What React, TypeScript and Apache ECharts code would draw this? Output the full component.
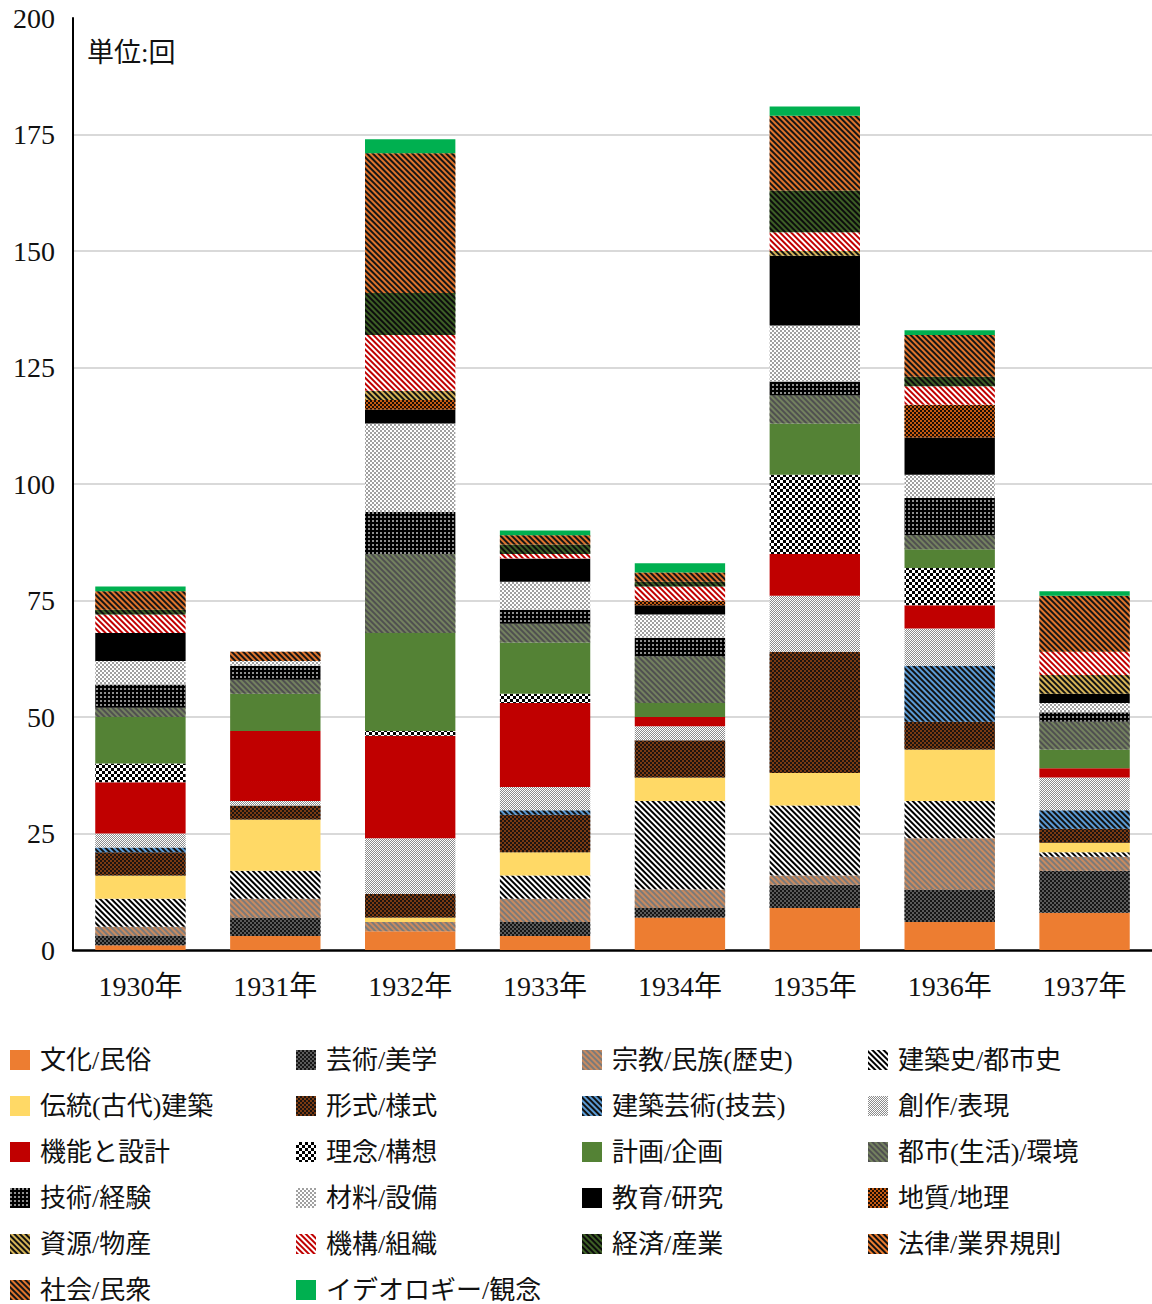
import React, { useEffect, useRef } from "react";
import * as echarts from "echarts";

const years = ["1930年", "1931年", "1932年", "1933年", "1934年", "1935年", "1936年", "1937年"];
const yTicks = { min: 0, max: 200, interval: 25 };
const unitLabel = "単位:回";

const names = [
  "文化/民俗", "芸術/美学", "宗教/民族(歴史)", "建築史/都市史",
  "伝統(古代)建築", "形式/様式", "建築芸術(技芸)", "創作/表現",
  "機能と設計", "理念/構想", "計画/企画", "都市(生活)/環境",
  "技術/経験", "材料/設備", "教育/研究", "地質/地理",
  "資源/物産", "機構/組織", "経済/産業", "法律/業界規則",
  "社会/民衆", "イデオロギー/観念",
];

const bunka = [1, 3, 4, 3, 7, 9, 6, 8];
const geijutsu = [2, 4, 0, 3, 2, 5, 7, 9];
const shukyo = [2, 4, 2, 5, 4, 2, 11, 3];
const kenchikushi = [6, 6, 0, 5, 19, 15, 8, 1];
const dento = [5, 11, 1, 5, 5, 7, 11, 2];
const keishiki = [5, 3, 5, 8, 8, 26, 6, 3];
const kenchikuGeijutsu = [1, 0, 0, 1, 0, 0, 12, 4];
const sosaku = [3, 1, 12, 5, 3, 12, 8, 7];
const kino = [11, 15, 22, 18, 2, 9, 5, 2];
const rinen = [4, 0, 1, 2, 0, 17, 8, 0];
const keikaku = [10, 8, 21, 11, 3, 11, 4, 4];
const toshi = [2, 3, 17, 4, 10, 6, 3, 6];
const gijutsu = [5, 3, 9, 3, 4, 3, 8, 2];
const zairyo = [5, 1, 19, 6, 5, 12, 5, 2];
const kyoiku = [6, 0, 3, 5, 2, 15, 8, 2];
const chishitsu = [0, 0, 2, 0, 1, 0, 7, 0];
const shigen = [0, 0, 2, 0, 0, 1, 0, 4];
const kiko = [4, 0, 12, 1, 3, 4, 4, 5];
const keizai = [1, 0, 9, 2, 1, 9, 2, 0];
const horitsu = [0, 0, 0, 0, 0, 0, 0, 0];
const shakai = [4, 2, 30, 2, 2, 16, 9, 12];
const ideology = [1, 0, 3, 1, 2, 2, 1, 1];

const seriesValues = [
  bunka, geijutsu, shukyo, kenchikushi, dento, keishiki, kenchikuGeijutsu, sosaku,
  kino, rinen, keikaku, toshi, gijutsu, zairyo, kyoiku, chishitsu,
  shigen, kiko, keizai, horitsu, shakai, ideology,
];

const ROT = Math.PI / 4;
const stripes = (color: string, on: number, off: number) => ({
  symbol: "rect", symbolSize: 1, color, dashArrayX: [1, 0], dashArrayY: [on, off], rotation: ROT,
});
const checker = (color: string, s: number) => ({
  symbol: "rect", symbolSize: 1, color, dashArrayX: [[s, s], [0, s, s, 0]], dashArrayY: [s, 0], rotation: 0,
});
const dots = (color: string, s: number, g: number) => ({
  symbol: "rect", symbolSize: 1, color, dashArrayX: [s, g], dashArrayY: [s, g], rotation: 0,
});

const styles: any[] = [
  { color: "#ed7d31" },
  { color: "#5a5a5a", decal: checker("#151515", 1.5) },
  { color: "#c98a5f", decal: stripes("#7a7a7a", 1.5, 1.5) },
  { color: "#ffffff", decal: stripes("#000000", 2, 1.6) },
  { color: "#ffd966" },
  { color: "#1c1410", decal: checker("#7a3a12", 1.5) },
  { color: "#5b9bd5", decal: stripes("#111111", 1.5, 1.8) },
  { color: "#ffffff", decal: checker("#8c8c8c", 1) },
  { color: "#c00000" },
  { color: "#ffffff", decal: checker("#000000", 3) },
  { color: "#548235" },
  { color: "#73815f", decal: stripes("#505050", 1.3, 1.6) },
  { color: "#000000", decal: dots("#8f8f8f", 2, 1.5) },
  { color: "#ffffff", decal: checker("#a0a0a0", 2) },
  { color: "#000000" },
  { color: "#c55a11", decal: checker("#1a0d05", 2) },
  { color: "#d6b457", decal: stripes("#111111", 1.5, 1.5) },
  { color: "#ffffff", decal: stripes("#c00000", 1.5, 1.5) },
  { color: "#3d5f26", decal: stripes("#0c0c0c", 1.5, 1.5) },
  { color: "#ed7d31", decal: stripes("#111111", 1.2, 2) },
  { color: "#e0742c", decal: stripes("#151515", 1.5, 1.5) },
  { color: "#00b050" },
];

const FONT = "'Liberation Serif', 'Noto Sans CJK JP', serif";

export default function App() {
  const ref = useRef<HTMLDivElement>(null);
  useEffect(() => {
    if (!ref.current) return;
    const chart = echarts.init(ref.current, null, { renderer: "svg" });
    const series = names.map((name, i) => ({
      name,
      type: "bar",
      stack: "total",
      barCategoryGap: "33%",
      data: seriesValues[i],
      itemStyle: { ...styles[i], borderWidth: 0 },
      emphasis: { disabled: true },
    }));
    chart.setOption({
      animation: false,
      backgroundColor: "#ffffff",
      title: {
        text: unitLabel,
        left: 82,
        top: 34,
        textStyle: { fontFamily: FONT, fontSize: 27, fontWeight: "normal", color: "#111" },
      },
      grid: { left: 73, right: 0, top: 18, bottom: 354, containLabel: false },
      legend: {
        left: 10,
        top: 1047,
        width: 1142,
        padding: 0,
        orient: "horizontal",
        itemWidth: 20,
        itemHeight: 20,
        itemGap: 20,
        icon: "rect",
        selectedMode: false,
        textStyle: { fontFamily: FONT, fontSize: 26, color: "#111", width: 236, lineHeight: 26, padding: [0, 0, 0, 5] },
        data: names,
      },
      xAxis: {
        type: "category",
        data: years,
        axisTick: { show: false },
        axisLine: { lineStyle: { color: "#000", width: 2.5 } },
        axisLabel: { fontFamily: FONT, fontSize: 28, color: "#111", margin: 22 },
      },
      yAxis: {
        type: "value",
        min: yTicks.min,
        max: yTicks.max,
        interval: yTicks.interval,
        axisLine: { show: true, lineStyle: { color: "#000", width: 2 } },
        axisTick: { show: false },
        axisLabel: { fontFamily: FONT, fontSize: 28, color: "#111", margin: 18 },
        splitLine: { show: true, showMinLine: false, showMaxLine: false, lineStyle: { color: "#d9d9d9", width: 2 } },
      },
      series,
    });
    return () => chart.dispose();
  }, []);
  return <div ref={ref} style={{ position: "fixed", left: 0, top: 0, width: 1152, height: 1304 }} />;
}
